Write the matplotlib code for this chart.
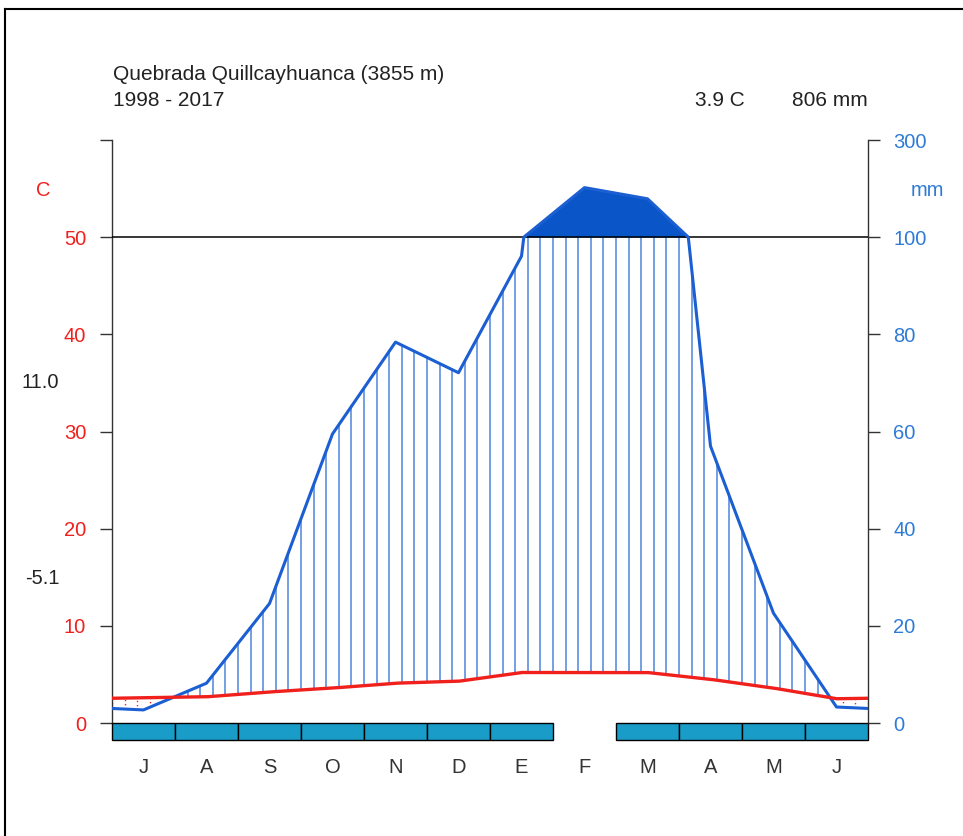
import numpy as np
import matplotlib
matplotlib.use("Agg")
import matplotlib.pyplot as plt
from matplotlib.lines import Line2D

plt.rcParams['font.family'] = ['Liberation Sans', 'DejaVu Sans']

# monthly data, July..June (southern hemisphere)
months = ["J", "A", "S", "O", "N", "D", "E", "F", "M", "A", "M", "J"]
temp = [2.6, 2.7, 3.2, 3.6, 4.1, 4.3, 5.2, 5.2, 5.2, 4.5, 3.6, 2.5]
prec = [2.7, 8.2, 24.6, 59.5, 78.4, 72.1, 96.1, 202, 179, 57.0, 22.6, 3.3]
frost = [1, 1, 1, 1, 1, 1, 1, 0, 1, 1, 1, 1]
station = "Quebrada Quillcayhuanca (3855 m)"
period = "1998 - 2017"
t_mean = "3.9 C"
p_total = "806 mm"
t_max_abs = "11.0"
t_min_abs = "-5.1"

RED = "#f0201c"
BLUE = "#1b5fd2"
HATCH = "#4d86dc"
DARK = "#0a55c8"
FROST = "#1a9cc8"
TXT = "#222222"
FS = 14.5


def p_scale(p):
    p = np.asarray(p, dtype=float)
    return np.where(p <= 100, p / 2.0, 50 + (p - 100) / 20.0)


W, H = 963, 836
fig = plt.figure(figsize=(W / 100, H / 100), dpi=100)
x0, x1, ytop, ybot = 112, 868, 140, 740
ax = fig.add_axes([x0 / W, (H - ybot) / H, (x1 - x0) / W, (ybot - ytop) / H])
unit = (723 - 236) / 50  # pixels per degree
ymin = -(ybot - 723) / unit
ax.set_xlim(0, 12)
ax.set_ylim(ymin, 60)

# curves extended to the edges
xm = np.concatenate([[0], np.arange(12) + 0.5, [12]])
t_ext = np.concatenate([[(temp[0] + temp[-1]) / 2], temp, [(temp[0] + temp[-1]) / 2]])
p_ext = np.concatenate([[(prec[0] + prec[-1]) / 2], prec, [(prec[0] + prec[-1]) / 2]])
xd = np.linspace(0, 12, 2401)
td = np.interp(xd, xm, t_ext)
pd_ = p_scale(np.interp(xd, xm, p_ext))

# hatch (humid) and dotted (arid) lines
xh = np.arange(0, 12.001, 0.2)
th = np.interp(xh, xm, t_ext)
ph = p_scale(np.interp(xh, xm, p_ext))
for xi, ti, pi in zip(xh, th, ph):
    if pi > ti:
        ax.plot([xi, xi], [ti, min(pi, 50)], color=HATCH, lw=1.1, zorder=2)
    else:
        ax.plot([xi, xi], [pi, ti], color=RED, lw=1.0, ls=(0, (1, 2)), zorder=2)

# very wet part, compressed scale
ax.fill_between(xd, 50, pd_, where=pd_ > 50, color=DARK, lw=0, zorder=3)

ax.axhline(50, color="black", lw=1.1, zorder=4)
ax.plot(xd, pd_, color=BLUE, lw=2.2, zorder=5)
ax.plot(xd, td, color=RED, lw=2.4, zorder=6)

# frost bar
for i, f in enumerate(frost):
    if f:
        ax.add_patch(plt.Rectangle((i, ymin), 1, -ymin, facecolor=FROST,
                                   edgecolor="black", lw=1.0, zorder=6, clip_on=False))

for s in ["top", "bottom"]:
    ax.spines[s].set_visible(False)
for s in ["left", "right"]:
    ax.spines[s].set_bounds(0, 60)
    ax.spines[s].set_color("#333333")
    ax.spines[s].set_linewidth(1.0)

ax.set_xticks([])
ax.set_yticks(range(0, 61, 10))
ax.set_yticklabels(["0", "10", "20", "30", "40", "50", ""])
ax.tick_params(axis="y", direction="out", length=8.6, width=1.0, color="#333333",
               labelsize=FS, labelcolor=RED, pad=10)

ax2 = ax.twinx()
ax2.set_ylim(ax.get_ylim())
for s in ["top", "bottom", "left", "right"]:
    ax2.spines[s].set_visible(False)
ax2.set_yticks(range(0, 61, 10))
ax2.set_yticklabels(["0", "20", "40", "60", "80", "100", "300"])
ax2.tick_params(axis="y", direction="out", length=8.6, width=1.0, color="#333333",
                labelsize=FS, labelcolor="#2e7bd6", pad=9.5)

for i, m in enumerate(months):
    ax.text(i + 0.5, ymin - (768 - ybot) / unit, m, ha="center", va="center",
            fontsize=FS, color="#333333")


def px(x, y):
    return x / W, 1 - y / H


fig.text(*px(113, 74), station, ha="left", va="center", fontsize=15, color=TXT)
fig.text(*px(113, 100), period, ha="left", va="center", fontsize=15, color=TXT)
fig.text(*px(745, 100), t_mean, ha="right", va="center", fontsize=15, color=TXT)
fig.text(*px(868, 100), p_total, ha="right", va="center", fontsize=15, color=TXT)
fig.text(*px(43, 190), "C", ha="center", va="center", fontsize=FS, color=RED)
fig.text(*px(927, 190), "mm", ha="center", va="center", fontsize=FS, color="#2e7bd6")
fig.text(*px(40, 383), t_max_abs, ha="center", va="center", fontsize=FS, color=TXT)
fig.text(*px(42, 578), t_min_abs, ha="center", va="center", fontsize=FS, color=TXT)

# frame around the plot
fig.add_artist(Line2D([5 / W, 1], [1 - 9 / H, 1 - 9 / H], color="black", lw=1.5))
fig.add_artist(Line2D([5 / W, 5 / W], [0, 1 - 9 / H], color="black", lw=1.5))

fig.savefig("out.png", dpi=100)
